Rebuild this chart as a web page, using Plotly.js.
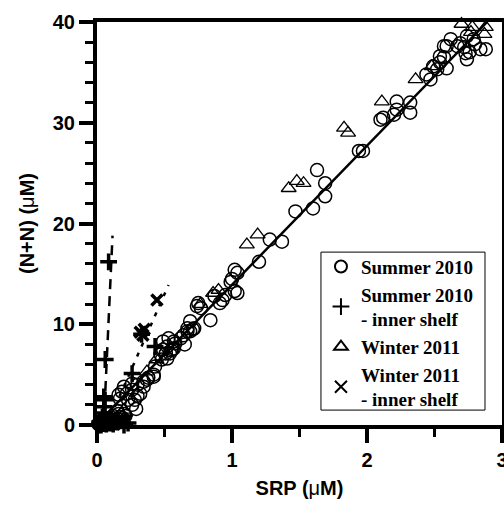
<!DOCTYPE html>
<html>
<head>
<meta charset="utf-8">
<script src="https://cdn.plot.ly/plotly-3.0.1.min.js"></script>
<style>html,body{margin:0;padding:0;background:#fff;}</style>
</head>
<body>
<div id="chart" style="width:504px;height:505px;"></div>
<script>
// Summer 2010 (open circles)
const summerX = [0.01,0.03,0.05,0.07,0.09,0.11,0.13,0.15,0.17,0.19,0.21,0.04,0.08,0.12,0.16,0.02,0.06,0.10,0.14,0.18,
  0.15,0.20,0.29,0.26,0.23,0.17,0.28,0.30,0.185,0.16,0.22,0.26,0.20,0.32,0.345,0.30,0.26,0.345,0.37,0.38,0.42,0.42,0.43,
  0.48,0.52,0.47,0.51,0.54,0.49,0.55,0.56,0.52,0.57,0.58,0.49,0.57,0.53,0.65,0.62,0.64,0.67,0.67,0.69,0.71,0.72,0.69,
  0.84,0.77,0.74,0.75,0.91,0.87,0.93,0.95,1.04,1.02,0.99,1.00,1.04,1.02,1.20,1.28,1.37,1.47,1.60,1.69,1.69,1.63,1.94,1.97,
  2.10,2.12,2.20,2.22,2.22,2.32,2.32,2.44,2.47,2.49,2.52,2.54,2.54,2.59,2.57,2.57,2.62,2.59,2.67,2.69,2.73,2.74,2.74,2.79,
  2.84,2.88,2.76,2.72,2.80];
const summerY = [0.1,0.2,0.1,0.3,0.2,0.4,0.5,0.6,0.8,0.7,0.9,0.5,0.6,0.9,1.1,0.0,0.0,0.1,0.2,0.3,
  1.4,1.1,1.6,2.0,2.5,2.6,2.5,2.9,3.3,3.0,3.1,3.5,3.8,3.1,3.8,4.0,4.1,4.3,4.5,4.7,4.8,5.0,5.8,
  6.5,6.6,7.0,7.1,7.1,7.5,7.4,7.5,7.8,7.6,8.1,8.3,8.3,8.6,8.0,8.6,8.9,9.3,9.6,9.3,9.5,9.6,10.3,
  10.4,11.6,11.8,12.1,12.1,12.8,12.4,12.9,13.1,13.3,14.2,14.5,15.1,15.4,16.2,18.4,18.2,21.2,21.5,22.7,24.0,25.3,27.2,27.2,
  30.3,30.5,30.8,31.3,32.1,31.0,32.0,34.8,34.3,35.6,35.3,36.0,36.6,35.4,36.5,37.6,38.3,37.6,37.6,37.9,36.9,38.6,36.3,38.3,
  37.3,37.3,37.0,37.5,37.8];

// Summer 2010 - inner shelf (plus)
const summerInnerX = [0.086,0.061,0.05,0.06,0.26,0.43,0.33,0.02,0.04,0.06,0.08,0.03,0.05,0.10,0.12,0.15,0.20,0.23,0.01,0.07];
const summerInnerY = [16.2,6.5,2.8,2.5,5.1,7.8,9.0,0.3,0.8,1.2,0.5,0.0,1.8,0.2,0.1,0.3,0.0,0.2,0.0,0.1];

// Winter 2011 (open triangles)
const winterX = [0.37,0.44,0.765,0.86,0.90,1.11,1.19,1.42,1.48,1.53,1.83,1.86,2.11,2.36,2.48,2.70,2.78,2.88,2.87,2.77,0.12,0.2];
const winterY = [5.3,6.5,12.0,13.1,13.4,17.9,18.9,23.5,24.2,24.0,29.5,29.0,32.1,34.3,35.6,39.8,39.5,39.5,38.8,39.0,0.8,1.5];

// Winter 2011 - inner shelf (x)
const winterInnerX = [0.444,0.32,0.35,0.34,0.05,0.08,0.10,0.12,0.15,0.18,0.20,0.22,0.03,0.13];
const winterInnerY = [12.4,9.2,9.5,8.9,0.2,0.1,0.6,0.3,0.4,0.6,0.2,0.5,0.0,0.1];

// Regression lines
const fitAllX = [0.05, 2.89];
const fitAllY = [0.8, 40];
const fitSummerInnerX = [0.05, 0.115];
const fitSummerInnerY = [0.0, 18.8];
const fitWinterInnerX = [0.10, 0.53];
const fitWinterInnerY = [0.8, 13.9];

const legendNames = ['Summer 2010', 'Summer 2010<br>- inner shelf', 'Winter 2011', 'Winter 2011<br>- inner shelf'];
const xTicks = [0, 1, 2, 3];
const yTicks = [0, 10, 20, 30, 40];

const traces = [
  {x: fitAllX, y: fitAllY, mode: 'lines', line: {color: '#000', width: 2.5}, showlegend: false, hoverinfo: 'skip'},
  {x: fitSummerInnerX, y: fitSummerInnerY, mode: 'lines', line: {color: '#000', width: 2.5, dash: '10px,7px'}, showlegend: false, hoverinfo: 'skip'},
  {x: fitWinterInnerX, y: fitWinterInnerY, mode: 'lines', line: {color: '#000', width: 2.5, dash: '4px,7px'}, showlegend: false, hoverinfo: 'skip'},
  {x: summerX, y: summerY, mode: 'markers', name: legendNames[0], cliponaxis: false,
   marker: {symbol: 'circle-open', size: 13, color: '#000', line: {width: 1.5, color: '#000'}}},
  {x: summerInnerX, y: summerInnerY, mode: 'markers', name: legendNames[1], cliponaxis: false,
   marker: {symbol: 'cross-thin-open', size: 12, color: '#000', line: {width: 3.5, color: '#000'}}},
  {x: winterX, y: winterY, mode: 'markers', name: legendNames[2], cliponaxis: false,
   marker: {symbol: 'triangle-up-open', size: 13, color: '#000', line: {width: 1.3, color: '#000'}}},
  {x: winterInnerX, y: winterInnerY, mode: 'markers', name: legendNames[3], cliponaxis: false,
   marker: {symbol: 'x-thin-open', size: 11, color: '#000', line: {width: 3.5, color: '#000'}}}
];

const tickFont = {family: 'Liberation Sans, Arial, sans-serif', size: 20, color: '#000', weight: 'bold'};
const titleFont = {family: 'Liberation Sans, Arial, sans-serif', size: 20, color: '#000', weight: 'bold'};
const layout = {
  width: 504, height: 505,
  margin: {l: 97, r: 2, t: 22, b: 80},
  paper_bgcolor: '#fff', plot_bgcolor: '#fff',
  showlegend: true,
  legend: {
    x: 0.553, y: 0.44, xanchor: 'left', yanchor: 'top',
    borderwidth: 0, bgcolor: 'rgba(0,0,0,0)',
    font: {family: 'Liberation Serif, Times New Roman, serif', size: 19, color: '#000', weight: 'bold'},
    itemsizing: 'constant', tracegroupgap: 0
  },
  shapes: [
    {type: 'rect', xref: 'paper', yref: 'paper', x0: 0.553, x1: 0.958, y0: 0.037, y1: 0.429,
     line: {color: '#000', width: 1}, fillcolor: 'rgba(0,0,0,0)', layer: 'above'}
  ],
  xaxis: {
    range: [0, 3], tickvals: xTicks, ticktext: xTicks.map(String),
    showgrid: false, zeroline: false,
    showline: true, linecolor: '#000', linewidth: 4, mirror: true,
    ticks: 'outside', ticklen: 14, tickwidth: 4, tickcolor: '#000',
    minor: {dtick: 0.5, ticks: 'outside', ticklen: 8, tickwidth: 3, tickcolor: '#000', showgrid: false},
    tickfont: tickFont, ticklabeloverflow: 'allow',
    title: {text: 'SRP (<span style="font-weight:normal">μ</span>M)', font: titleFont, standoff: 12}
  },
  yaxis: {
    range: [0, 40], tickvals: yTicks, ticktext: yTicks.map(String),
    showgrid: false, zeroline: false,
    showline: true, linecolor: '#000', linewidth: 4, mirror: true,
    ticks: 'outside', ticklen: 14, tickwidth: 4, tickcolor: '#000',
    minor: {dtick: 2, ticks: 'outside', ticklen: 8, tickwidth: 3, tickcolor: '#000', showgrid: false},
    tickfont: tickFont, ticklabeloverflow: 'allow',
    title: {text: '(N+N) (<span style="font-weight:normal">μ</span>M)', font: titleFont, standoff: 14}
  }
};

Plotly.newPlot('chart', traces, layout, {staticPlot: true, displayModeBar: false});
</script>
</body>
</html>
